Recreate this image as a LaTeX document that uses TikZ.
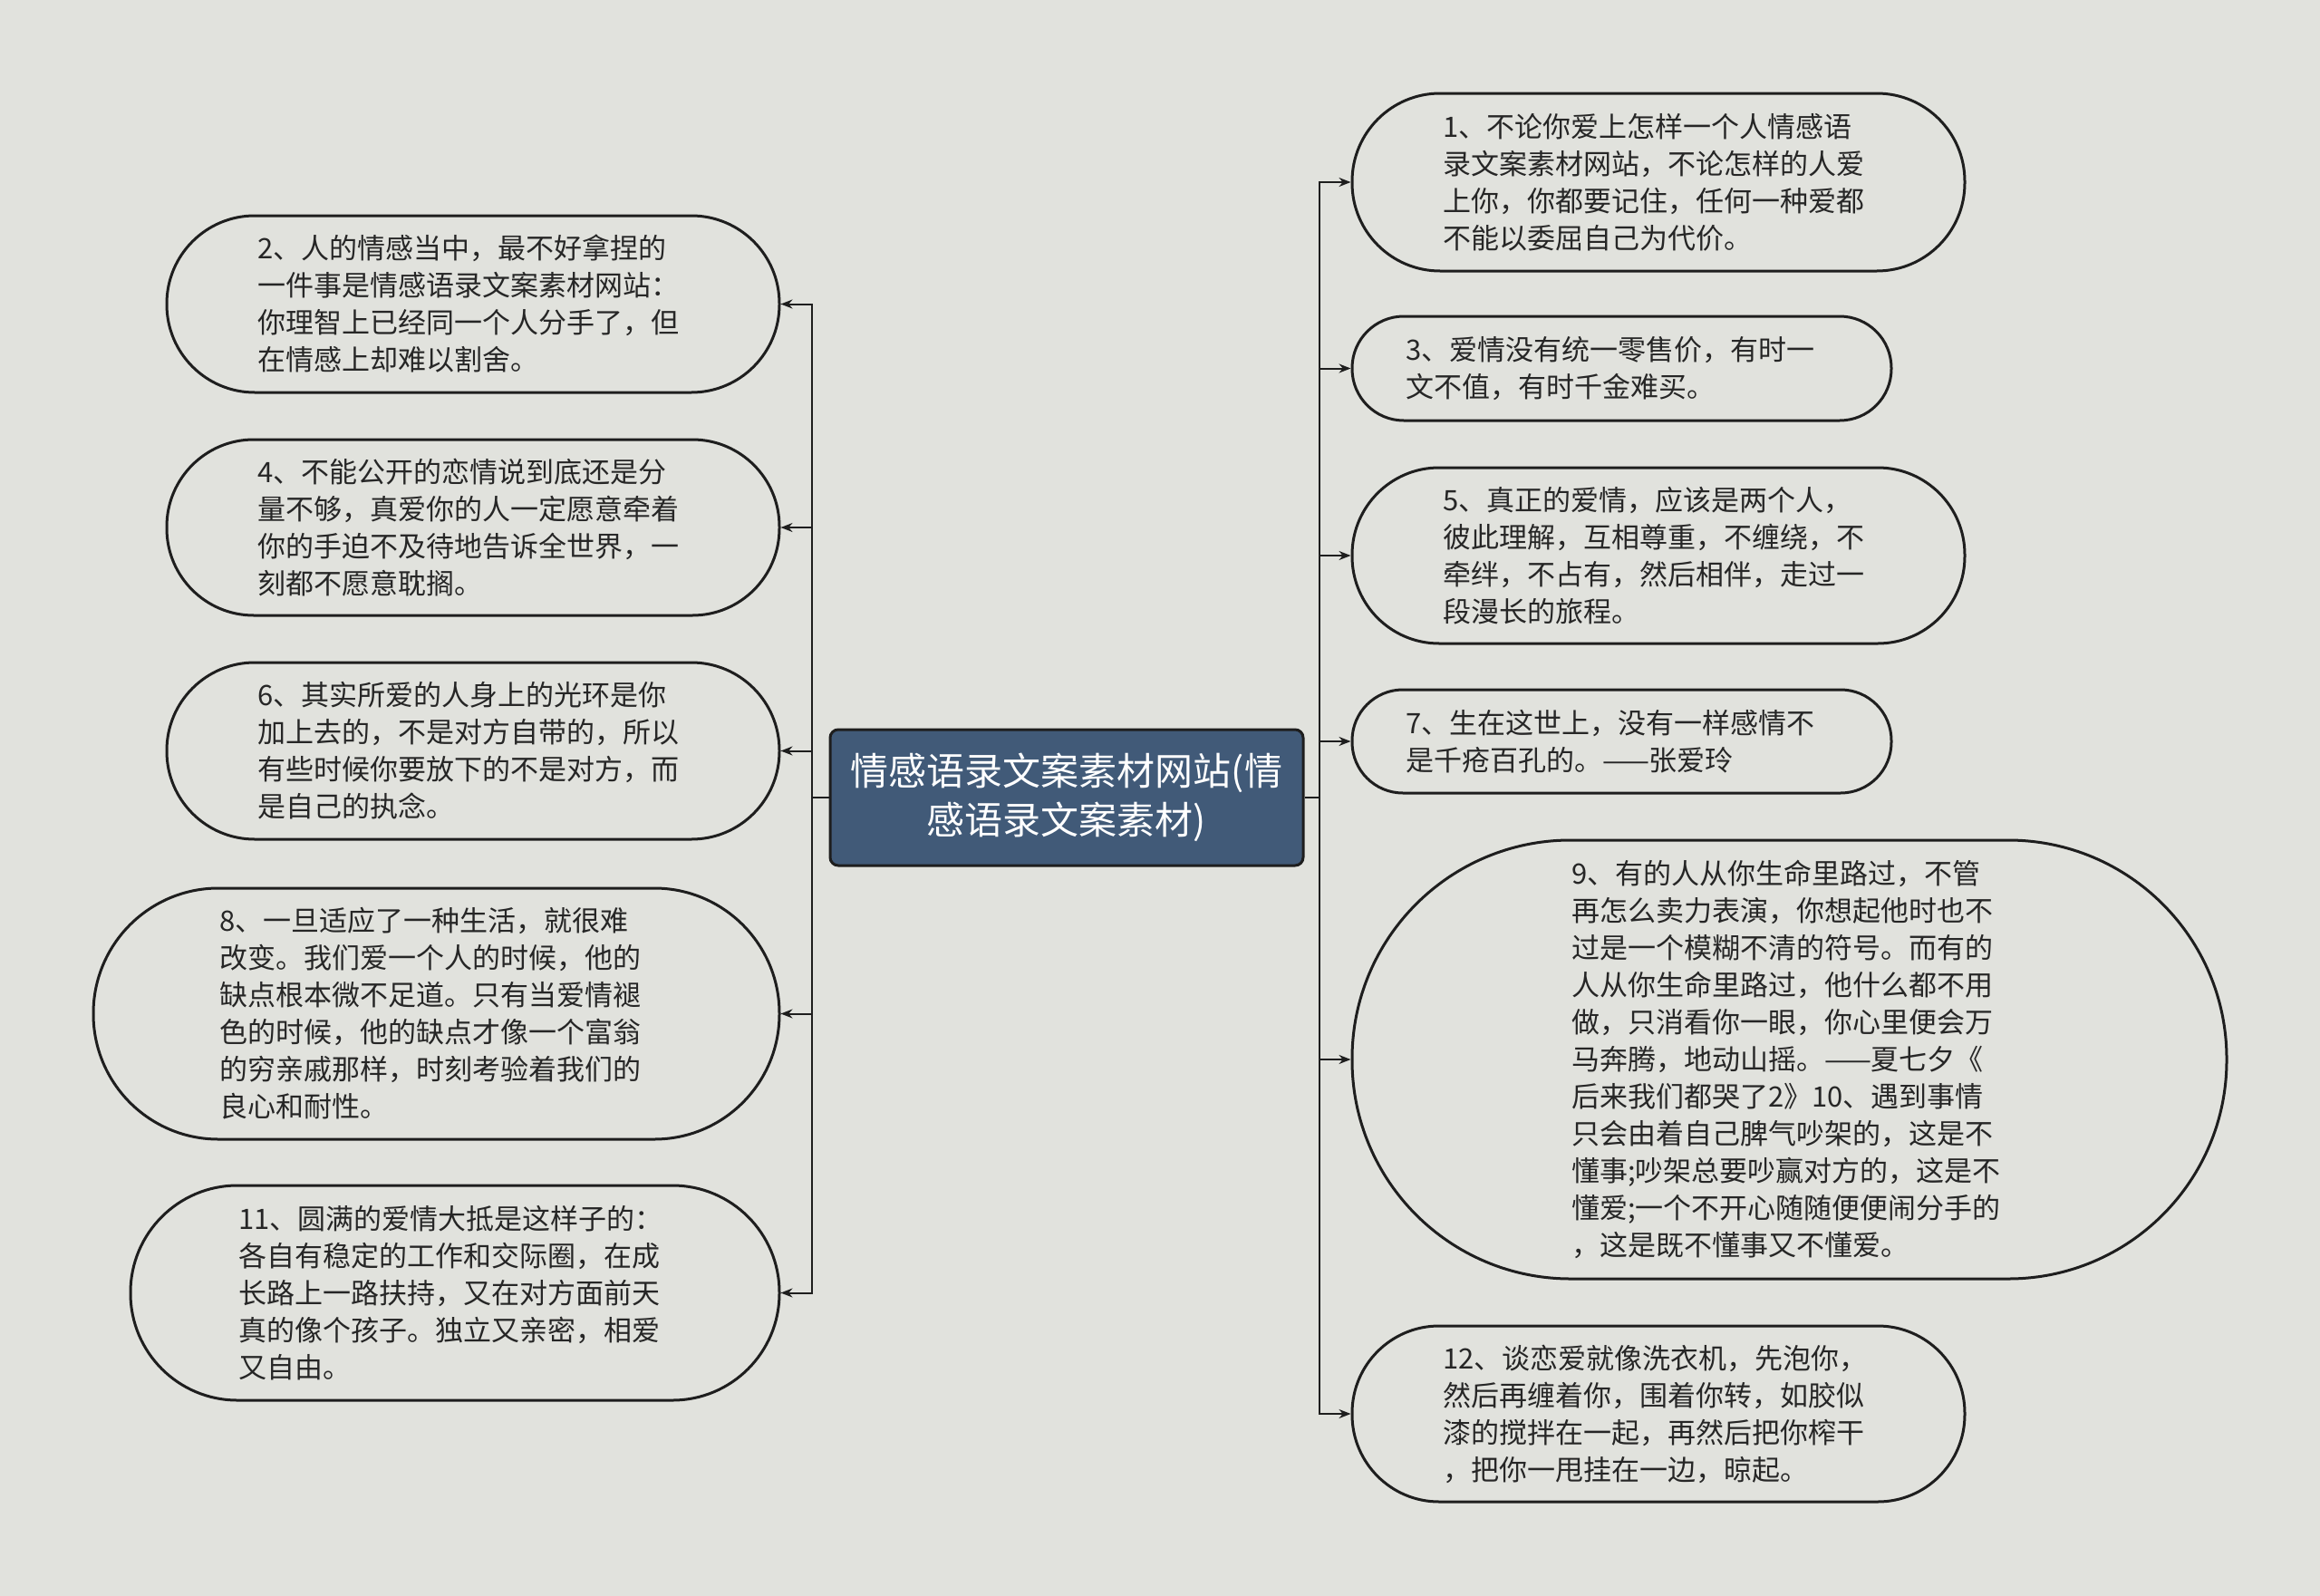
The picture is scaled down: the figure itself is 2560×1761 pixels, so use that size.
\documentclass[tikz,border=0pt]{standalone}
\usepackage{fontspec}
\setmainfont{Noto Sans CJK SC}
\usetikzlibrary{arrows.meta}
\definecolor{bg}{HTML}{E1E2DD}
\definecolor{ink}{HTML}{1E1E1E}
\definecolor{txt}{HTML}{262626}
\definecolor{hub}{HTML}{415A78}
\tikzset{
  leaf/.style={draw=ink, line width=3pt, fill=bg, text=txt, align=left,
    inner sep=0pt, font=\fontsize{31}{41}\selectfont},
  hubbox/.style={draw=ink, line width=3pt, fill=hub, text=white, align=center,
    rounded corners=9pt, inner sep=0pt, font=\fontsize{42}{54}\selectfont},
  conn/.style={draw=ink, line width=2pt, -{Stealth[length=13pt,width=10pt]}},
  trunk/.style={draw=ink, line width=2pt}
}
\begin{document}
\begin{tikzpicture}[x=1pt,y=-1pt]
\fill[bg] (0,0) rectangle (2560,1761);
\useasboundingbox (0,0) rectangle (2560,1761);

\node[hubbox, minimum width=522pt, minimum height=150pt] (c) at (1177,880)
  {情感语录文案素材网站(情\\感语录文案素材)};

% left side
\node[leaf, minimum width=676pt, minimum height=195pt, rounded corners=97pt, text width=476pt] (n2) at (522,335.5)
  {2、人的情感当中，最不好拿捏的\\一件事是情感语录文案素材网站：\\你理智上已经同一个人分手了，但\\在情感上却难以割舍。};
\node[leaf, minimum width=676pt, minimum height=194pt, rounded corners=96pt, text width=476pt] (n4) at (522,582)
  {4、不能公开的恋情说到底还是分\\量不够，真爱你的人一定愿意牵着\\你的手迫不及待地告诉全世界，一\\刻都不愿意耽搁。};
\node[leaf, minimum width=676pt, minimum height=195pt, rounded corners=97pt, text width=476pt] (n6) at (522,828.5)
  {6、其实所爱的人身上的光环是你\\加上去的，不是对方自带的，所以\\有些时候你要放下的不是对方，而\\是自己的执念。};
\node[leaf, minimum width=757pt, minimum height=277pt, rounded corners=138pt, text width=479pt] (n8) at (481.5,1118.5)
  {8、一旦适应了一种生活，就很难\\改变。我们爱一个人的时候，他的\\缺点根本微不足道。只有当爱情褪\\色的时候，他的缺点才像一个富翁\\的穷亲戚那样，时刻考验着我们的\\良心和耐性。};
\node[leaf, minimum width=716pt, minimum height=237pt, rounded corners=118pt, text width=478pt] (n11) at (502,1426.5)
  {11、圆满的爱情大抵是这样子的：\\各自有稳定的工作和交际圈，在成\\长路上一路扶持，又在对方面前天\\真的像个孩子。独立又亲密，相爱\\又自由。};

% right side
\node[leaf, minimum width=676pt, minimum height=196pt, rounded corners=97pt, text width=476pt] (n1) at (1830,201)
  {1、不论你爱上怎样一个人情感语\\录文案素材网站，不论怎样的人爱\\上你，你都要记住，任何一种爱都\\不能以委屈自己为代价。};
\node[leaf, minimum width=595pt, minimum height=115pt, rounded corners=57pt, text width=477pt] (n3) at (1789.5,406.5)
  {3、爱情没有统一零售价，有时一\\文不值，有时千金难买。};
\node[leaf, minimum width=676pt, minimum height=194pt, rounded corners=96pt, text width=476pt] (n5) at (1830,613)
  {5、真正的爱情，应该是两个人，\\彼此理解，互相尊重，不缠绕，不\\牵绊，不占有，然后相伴，走过一\\段漫长的旅程。};
\node[leaf, minimum width=595pt, minimum height=114pt, rounded corners=56pt, text width=477pt] (n7) at (1789.5,818)
  {7、生在这世上，没有一样感情不\\是千疮百孔的。——张爱玲};
\node[leaf, minimum width=965pt, minimum height=484pt, rounded corners=241pt, text width=481pt] (n9) at (1974.5,1169)
  {9、有的人从你生命里路过，不管\\再怎么卖力表演，你想起他时也不\\过是一个模糊不清的符号。而有的\\人从你生命里路过，他什么都不用\\做，只消看你一眼，你心里便会万\\马奔腾，地动山摇。——夏七夕《\\后来我们都哭了2》10、遇到事情\\只会由着自己脾气吵架的，这是不\\懂事;吵架总要吵赢对方的，这是不\\懂爱;一个不开心随随便便闹分手的\\，这是既不懂事又不懂爱。};
\node[leaf, minimum width=676pt, minimum height=194pt, rounded corners=96pt, text width=476pt] (n12) at (1830,1560)
  {12、谈恋爱就像洗衣机，先泡你，\\然后再缠着你，围着你转，如胶似\\漆的搅拌在一起，再然后把你榨干\\，把你一甩挂在一边，晾起。};

\coordinate (lj) at (896,880);
\coordinate (rj) at (1456,880);
\draw[trunk] (c.west) -- (lj);
\draw[trunk] (c.east) -- (rj);
\foreach \n in {n2,n4,n6,n8,n11} \draw[conn] (lj) |- (\n.east);
\foreach \n in {n1,n3,n5,n7,n9,n12} \draw[conn] (rj) |- (\n.west);
\end{tikzpicture}
\end{document}
